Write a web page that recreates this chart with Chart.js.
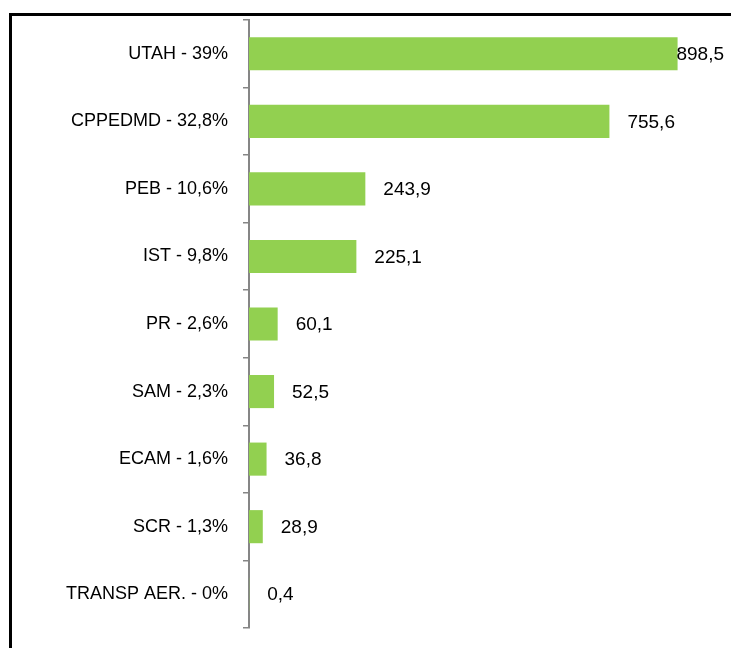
<!DOCTYPE html>
<html>
<head>
<meta charset="utf-8">
<style>
  html, body { margin: 0; padding: 0; background: #fff; }
  #wrap { width: 732px; height: 648px; position: relative; }
</style>
<script src="https://cdn.jsdelivr.net/npm/chart.js@4/dist/chart.umd.min.js"></script>
</head>
<body>
<div id="wrap"><canvas id="c" width="732" height="648"></canvas></div>
<script>
const categories = ["UTAH - 39%", "CPPEDMD - 32,8%", "PEB - 10,6%", "IST - 9,8%", "PR - 2,6%", "SAM - 2,3%", "ECAM - 1,6%", "SCR - 1,3%", "TRANSP AER. - 0%"];
const values = [898.5, 755.6, 243.9, 225.1, 60.1, 52.5, 36.8, 28.9, 0.4];
const valueLabels = ["898,5", "755,6", "243,9", "225,1", "60,1", "52,5", "36,8", "28,9", "0,4"];
const xMax = 1000;

const frame = {
  id: 'frame',
  afterDraw(chart) {
    const ctx = chart.ctx;
    ctx.save();
    ctx.strokeStyle = '#000';
    ctx.lineWidth = 3;
    ctx.beginPath();
    ctx.moveTo(9, 14.5);
    ctx.lineTo(731, 14.5);
    ctx.moveTo(10.5, 13);
    ctx.lineTo(10.5, 648);
    ctx.stroke();
    ctx.restore();
  }
};

const valueLabelPlugin = {
  id: 'valueLabels',
  afterDatasetsDraw(chart) {
    const ctx = chart.ctx;
    const meta = chart.getDatasetMeta(0);
    const area = chart.chartArea;
    ctx.save();
    ctx.font = '19px "Liberation Sans", Arial, sans-serif';
    ctx.fillStyle = '#000';
    ctx.textBaseline = 'middle';
    ctx.textAlign = 'left';
    meta.data.forEach((bar, i) => {
      const txt = valueLabels[i];
      const w = ctx.measureText(txt).width;
      let x = bar.x + 18;
      if (x + w > area.right) x = area.right - w - 2;
      ctx.fillText(txt, x, bar.y + 1);
    });
    ctx.restore();
  }
};

new Chart(document.getElementById('c'), {
  type: 'bar',
  data: {
    labels: categories,
    datasets: [{
      data: values,
      backgroundColor: '#92D050',
      borderWidth: 0,
      barPercentage: 0.49,
      categoryPercentage: 1.0
    }]
  },
  options: {
    indexAxis: 'y',
    responsive: false,
    animation: false,
    layout: { padding: { left: 0, right: 6, top: 20, bottom: 20 } },
    plugins: { legend: { display: false }, tooltip: { enabled: false } },
    scales: {
      x: {
        display: false,
        min: 0,
        max: xMax
      },
      y: {
        afterFit(scale) {
          scale.width = 249;
          scale.paddingTop = 0;
          scale.paddingBottom = 0;
        },
        grid: {
          drawOnChartArea: false,
          drawTicks: true,
          tickLength: 6,
          color: '#868686',
          lineWidth: 1.5
        },
        border: { display: true, color: '#868686', width: 2 },
        ticks: {
          color: '#000',
          padding: 15,
          font: { family: '"Liberation Sans", Arial, sans-serif', size: 18 }
        }
      }
    }
  },
  plugins: [frame, valueLabelPlugin]
});
</script>
</body>
</html>
